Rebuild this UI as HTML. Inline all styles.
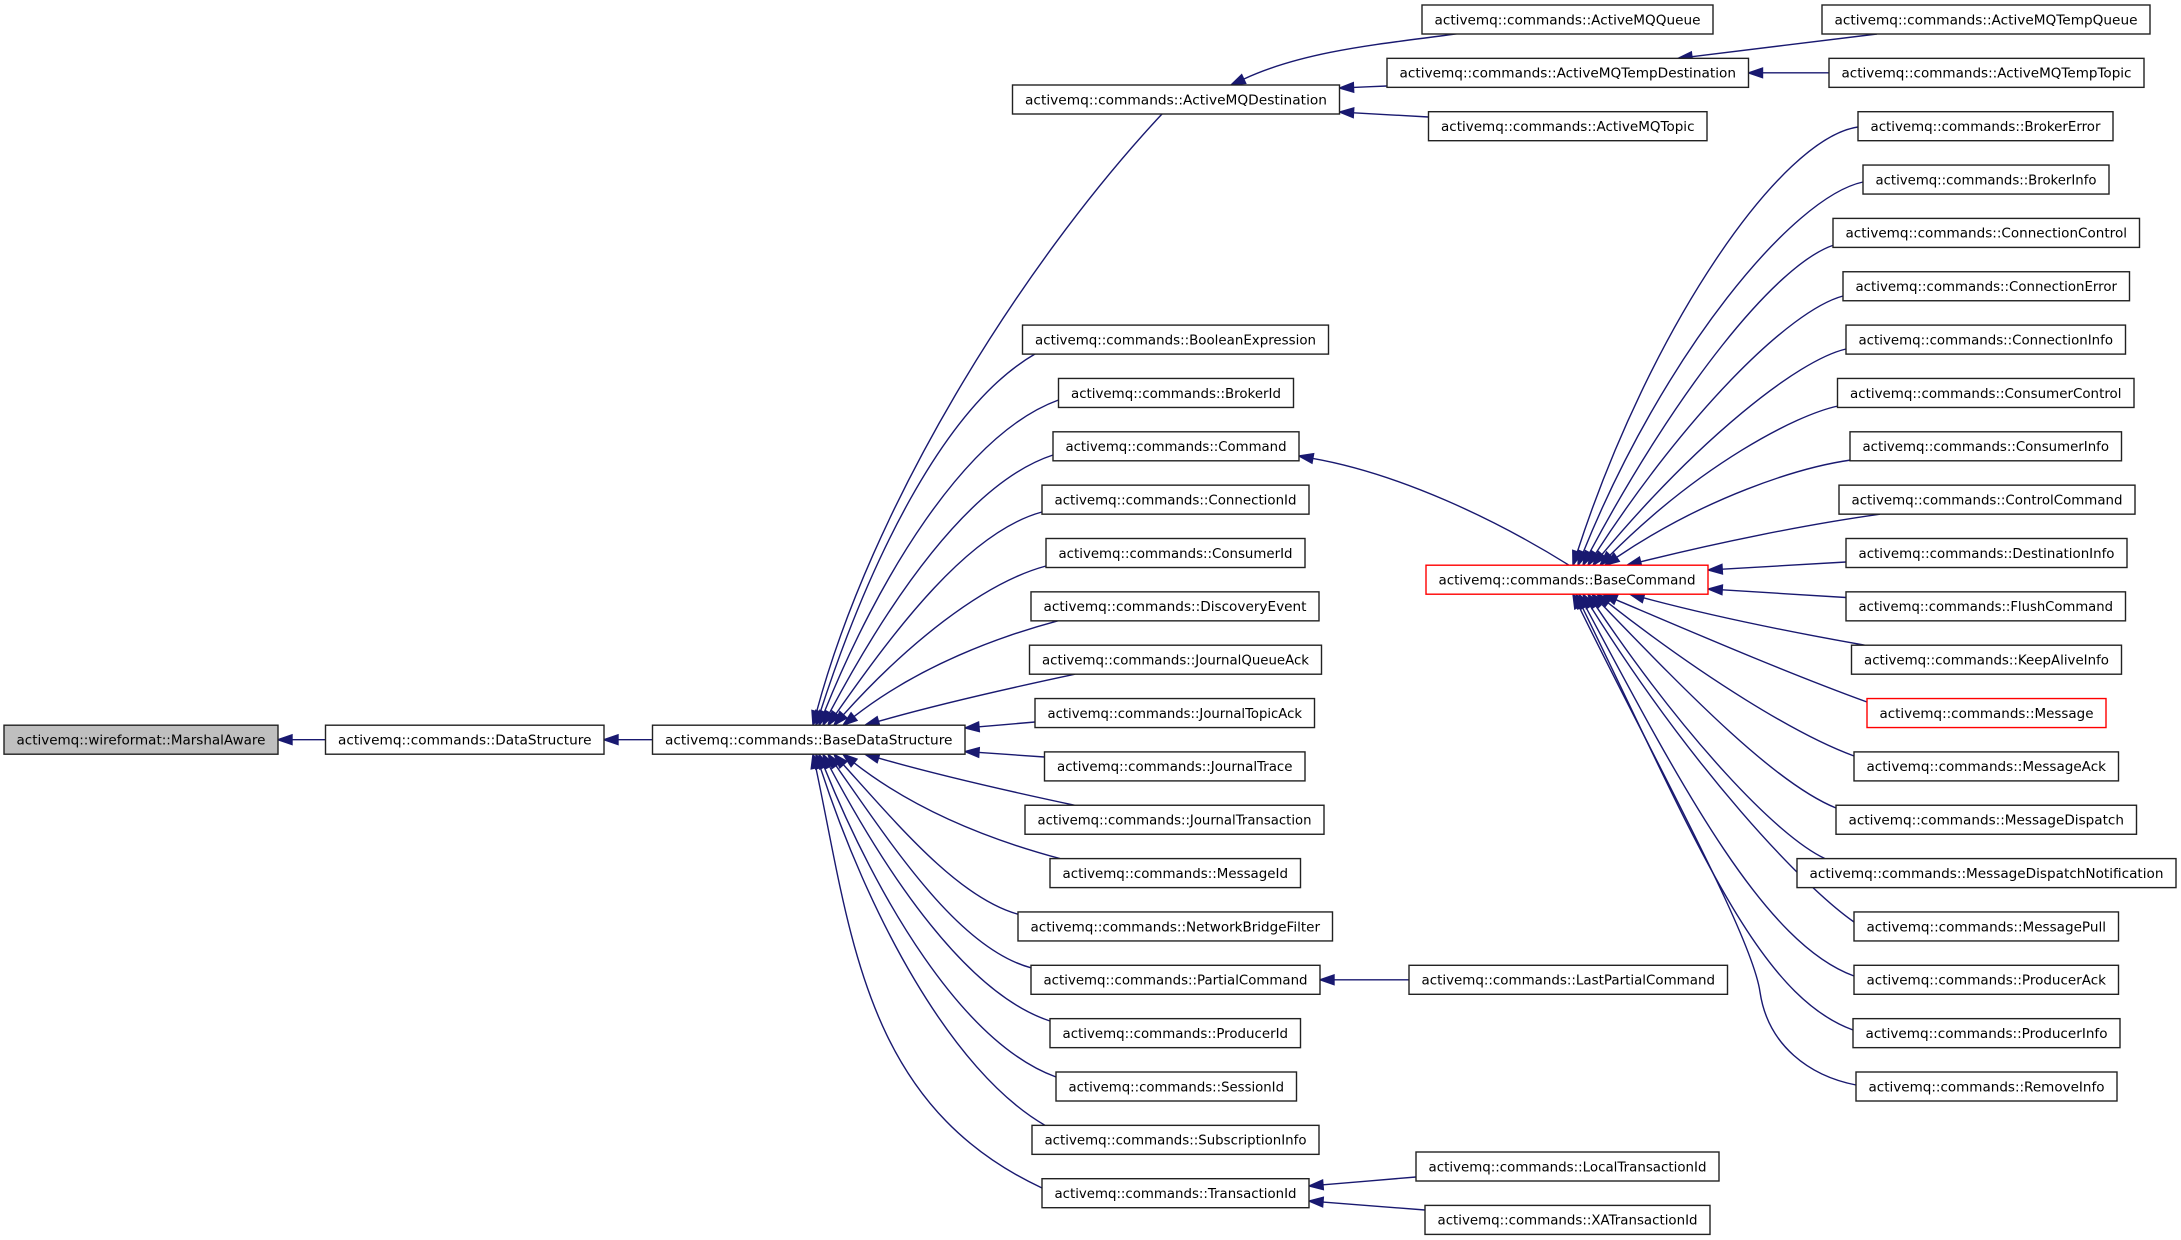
<!DOCTYPE html>
<html>
<head>
<meta charset="utf-8">
<style>
html,body{margin:0;padding:0;background:#fff;}
svg{display:block;}
text{font-family:"DejaVu Sans","Liberation Sans",sans-serif;font-size:13.5px;fill:#000;text-anchor:middle;}
.b{fill:#fff;stroke:#222;stroke-width:1.4;}
.r{fill:#fff;stroke:#ff0000;stroke-width:1.4;}
.g{fill:#bfbfbf;stroke:#222;stroke-width:1.4;}
</style>
</head>
<body>
<svg id="s" xmlns="http://www.w3.org/2000/svg" width="2181" height="1240" viewBox="0 0 2181 1240">
<rect x="0" y="0" width="2181" height="1240" fill="#fff"/>
<g id="edges" fill="none" stroke="#191970" stroke-width="1.4">
<path d="M1856,1085 C1810,1076 1768,1046 1760,992 C1752,935 1650,752 1579.1,606.8"/>
</g>
<g id="heads" fill="#191970" stroke="#191970" stroke-width="1.4">
<polygon points="1573,594.2 1583.4,604.7 1574.8,608.9"/>
</g>
<g id="nodes">
<rect class="g" x="4" y="725.2" width="274" height="29"/><text x="141" y="744.5" textLength="249" lengthAdjust="spacingAndGlyphs">activemq::wireformat::MarshalAware</text>
<rect class="b" x="325.5" y="725.2" width="278.5" height="29"/><text x="464.75" y="744.5" textLength="253.5" lengthAdjust="spacingAndGlyphs">activemq::commands::DataStructure</text>
<rect class="b" x="652.5" y="725.2" width="312.5" height="29"/><text x="808.75" y="744.5" textLength="287.5" lengthAdjust="spacingAndGlyphs">activemq::commands::BaseDataStructure</text>

<rect class="b" x="1012.5" y="85" width="327" height="29"/><text x="1176" y="104.3" textLength="302" lengthAdjust="spacingAndGlyphs">activemq::commands::ActiveMQDestination</text>
<rect class="b" x="1022.5" y="325.1" width="306" height="29"/><text x="1175.5" y="344.4" textLength="281" lengthAdjust="spacingAndGlyphs">activemq::commands::BooleanExpression</text>
<rect class="b" x="1058.5" y="378.45" width="235" height="29"/><text x="1176" y="397.75" textLength="210" lengthAdjust="spacingAndGlyphs">activemq::commands::BrokerId</text>
<rect class="b" x="1053" y="431.8" width="246" height="29"/><text x="1176" y="451.1" textLength="221" lengthAdjust="spacingAndGlyphs">activemq::commands::Command</text>
<rect class="b" x="1042" y="485.15" width="267" height="29"/><text x="1175.5" y="504.45" textLength="242" lengthAdjust="spacingAndGlyphs">activemq::commands::ConnectionId</text>
<rect class="b" x="1046" y="538.5" width="259" height="29"/><text x="1175.5" y="557.8" textLength="234" lengthAdjust="spacingAndGlyphs">activemq::commands::ConsumerId</text>
<rect class="b" x="1031" y="591.85" width="288" height="29"/><text x="1175" y="611.15" textLength="263" lengthAdjust="spacingAndGlyphs">activemq::commands::DiscoveryEvent</text>
<rect class="b" x="1029.5" y="645.2" width="292" height="29"/><text x="1175.5" y="664.5" textLength="267" lengthAdjust="spacingAndGlyphs">activemq::commands::JournalQueueAck</text>
<rect class="b" x="1035" y="698.55" width="279.5" height="29"/><text x="1174.75" y="717.85" textLength="254.5" lengthAdjust="spacingAndGlyphs">activemq::commands::JournalTopicAck</text>
<rect class="b" x="1044.5" y="751.9" width="260.5" height="29"/><text x="1174.75" y="771.2" textLength="235.5" lengthAdjust="spacingAndGlyphs">activemq::commands::JournalTrace</text>
<rect class="b" x="1025" y="805.25" width="299" height="29"/><text x="1174.5" y="824.55" textLength="274" lengthAdjust="spacingAndGlyphs">activemq::commands::JournalTransaction</text>
<rect class="b" x="1050" y="858.6" width="250.5" height="29"/><text x="1175.25" y="877.9" textLength="225.5" lengthAdjust="spacingAndGlyphs">activemq::commands::MessageId</text>
<rect class="b" x="1018" y="911.95" width="314.5" height="29"/><text x="1175.25" y="931.25" textLength="289.5" lengthAdjust="spacingAndGlyphs">activemq::commands::NetworkBridgeFilter</text>
<rect class="b" x="1031" y="965.3" width="289" height="29"/><text x="1175.5" y="984.6" textLength="264" lengthAdjust="spacingAndGlyphs">activemq::commands::PartialCommand</text>
<rect class="b" x="1050" y="1018.65" width="250.5" height="29"/><text x="1175.25" y="1037.95" textLength="225.5" lengthAdjust="spacingAndGlyphs">activemq::commands::ProducerId</text>
<rect class="b" x="1056" y="1072" width="240.5" height="29"/><text x="1176.25" y="1091.3" textLength="215.5" lengthAdjust="spacingAndGlyphs">activemq::commands::SessionId</text>
<rect class="b" x="1032" y="1125.35" width="287" height="29"/><text x="1175.5" y="1144.65" textLength="262" lengthAdjust="spacingAndGlyphs">activemq::commands::SubscriptionInfo</text>
<rect class="b" x="1042" y="1178.7" width="267" height="29"/><text x="1175.5" y="1198" textLength="242" lengthAdjust="spacingAndGlyphs">activemq::commands::TransactionId</text>

<rect class="b" x="1422" y="5" width="291" height="29"/><text x="1567.5" y="24.3" textLength="266" lengthAdjust="spacingAndGlyphs">activemq::commands::ActiveMQQueue</text>
<rect class="b" x="1387" y="58.35" width="361.5" height="29"/><text x="1567.75" y="77.65" textLength="336.5" lengthAdjust="spacingAndGlyphs">activemq::commands::ActiveMQTempDestination</text>
<rect class="b" x="1428.5" y="111.7" width="278.5" height="29"/><text x="1567.75" y="131" textLength="253.5" lengthAdjust="spacingAndGlyphs">activemq::commands::ActiveMQTopic</text>
<rect class="r" x="1426" y="565.2" width="282" height="29"/><text x="1567" y="584.5" textLength="257" lengthAdjust="spacingAndGlyphs">activemq::commands::BaseCommand</text>
<rect class="b" x="1409" y="965.3" width="318.5" height="29"/><text x="1568.25" y="984.6" textLength="293.5" lengthAdjust="spacingAndGlyphs">activemq::commands::LastPartialCommand</text>
<rect class="b" x="1416" y="1152" width="303" height="29"/><text x="1567.5" y="1171.3" textLength="278" lengthAdjust="spacingAndGlyphs">activemq::commands::LocalTransactionId</text>
<rect class="b" x="1425" y="1205.4" width="285" height="29"/><text x="1567.5" y="1224.7" textLength="260" lengthAdjust="spacingAndGlyphs">activemq::commands::XATransactionId</text>

<rect class="b" x="1822" y="5" width="328" height="29"/><text x="1986" y="24.3" textLength="303" lengthAdjust="spacingAndGlyphs">activemq::commands::ActiveMQTempQueue</text>
<rect class="b" x="1829" y="58.35" width="315" height="29"/><text x="1986.5" y="77.65" textLength="290" lengthAdjust="spacingAndGlyphs">activemq::commands::ActiveMQTempTopic</text>
<rect class="b" x="1858" y="111.7" width="255" height="29"/><text x="1985.5" y="131" textLength="230" lengthAdjust="spacingAndGlyphs">activemq::commands::BrokerError</text>
<rect class="b" x="1863" y="165.05" width="246" height="29"/><text x="1986" y="184.35" textLength="221" lengthAdjust="spacingAndGlyphs">activemq::commands::BrokerInfo</text>
<rect class="b" x="1833" y="218.4" width="306.5" height="29"/><text x="1986.25" y="237.7" textLength="281.5" lengthAdjust="spacingAndGlyphs">activemq::commands::ConnectionControl</text>
<rect class="b" x="1843" y="271.75" width="286.5" height="29"/><text x="1986.25" y="291.05" textLength="261.5" lengthAdjust="spacingAndGlyphs">activemq::commands::ConnectionError</text>
<rect class="b" x="1846" y="325.1" width="279.5" height="29"/><text x="1985.75" y="344.4" textLength="254.5" lengthAdjust="spacingAndGlyphs">activemq::commands::ConnectionInfo</text>
<rect class="b" x="1837.5" y="378.45" width="296.5" height="29"/><text x="1985.75" y="397.75" textLength="271.5" lengthAdjust="spacingAndGlyphs">activemq::commands::ConsumerControl</text>
<rect class="b" x="1850" y="431.8" width="271.5" height="29"/><text x="1985.75" y="451.1" textLength="246.5" lengthAdjust="spacingAndGlyphs">activemq::commands::ConsumerInfo</text>
<rect class="b" x="1839" y="485.15" width="296" height="29"/><text x="1987" y="504.45" textLength="271" lengthAdjust="spacingAndGlyphs">activemq::commands::ControlCommand</text>
<rect class="b" x="1846" y="538.5" width="281" height="29"/><text x="1986.5" y="557.8" textLength="256" lengthAdjust="spacingAndGlyphs">activemq::commands::DestinationInfo</text>
<rect class="b" x="1846" y="591.85" width="279.5" height="29"/><text x="1985.75" y="611.15" textLength="254.5" lengthAdjust="spacingAndGlyphs">activemq::commands::FlushCommand</text>
<rect class="b" x="1851.5" y="645.2" width="270" height="29"/><text x="1986.5" y="664.5" textLength="245" lengthAdjust="spacingAndGlyphs">activemq::commands::KeepAliveInfo</text>
<rect class="r" x="1867" y="698.55" width="239" height="29"/><text x="1986.5" y="717.85" textLength="214" lengthAdjust="spacingAndGlyphs">activemq::commands::Message</text>
<rect class="b" x="1854" y="751.9" width="264.5" height="29"/><text x="1986.25" y="771.2" textLength="239.5" lengthAdjust="spacingAndGlyphs">activemq::commands::MessageAck</text>
<rect class="b" x="1836" y="805.25" width="300.5" height="29"/><text x="1986.25" y="824.55" textLength="275.5" lengthAdjust="spacingAndGlyphs">activemq::commands::MessageDispatch</text>
<rect class="b" x="1797" y="858.6" width="379" height="29"/><text x="1986.5" y="877.9" textLength="354" lengthAdjust="spacingAndGlyphs">activemq::commands::MessageDispatchNotification</text>
<rect class="b" x="1854" y="911.95" width="264.5" height="29"/><text x="1986.25" y="931.25" textLength="239.5" lengthAdjust="spacingAndGlyphs">activemq::commands::MessagePull</text>
<rect class="b" x="1854" y="965.3" width="264.5" height="29"/><text x="1986.25" y="984.6" textLength="239.5" lengthAdjust="spacingAndGlyphs">activemq::commands::ProducerAck</text>
<rect class="b" x="1853" y="1018.65" width="267" height="29"/><text x="1986.5" y="1037.95" textLength="242" lengthAdjust="spacingAndGlyphs">activemq::commands::ProducerInfo</text>
<rect class="b" x="1856" y="1072" width="261" height="29"/><text x="1986.5" y="1091.3" textLength="236" lengthAdjust="spacingAndGlyphs">activemq::commands::RemoveInfo</text>
</g>
</svg>
<script>
(function(){
var NS='http://www.w3.org/2000/svg';
var ge=document.getElementById('edges'),gh=document.getElementById('heads');
function add(par,tag,attrs){var e=document.createElementNS(NS,tag);for(var k in attrs)e.setAttribute(k,attrs[k]);par.appendChild(e);return e;}
function f(v){return (Math.round(v*100)/100).toString();}
function head(tx,ty,ux,uy){
  var bx=tx-14*ux,by=ty-14*uy,nx=-uy*4.8,ny=ux*4.8;
  add(gh,'polygon',{points:f(tx)+','+f(ty)+' '+f(bx+nx)+','+f(by+ny)+' '+f(bx-nx)+','+f(by-ny)});
  return [bx,by];
}
function E(sx,sy,tx,ty,p0,p1,sg,f0,f1){
  f0=(f0===undefined)?0.3:f0; f1=(f1===undefined)?0.3:f1;
  var r=Math.PI/180;
  var u0x=-Math.cos(p0*r),u0y=sg*Math.sin(p0*r),u1x=-Math.cos(p1*r),u1y=sg*Math.sin(p1*r);
  var d=Math.sqrt((tx-sx)*(tx-sx)+(ty-sy)*(ty-sy));
  var b=head(tx,ty,u1x,u1y);
  var c1x=sx+f0*d*u0x,c1y=sy+f0*d*u0y,c2x=b[0]-f1*d*u1x,c2y=b[1]-f1*d*u1y;
  add(ge,'path',{d:'M'+f(sx)+','+f(sy)+' C'+f(c1x)+','+f(c1y)+' '+f(c2x)+','+f(c2y)+' '+f(b[0])+','+f(b[1])});
}
// left chain
E(325.5,739.7,278,739.7,0,0,1);
E(652.5,739.7,604,739.7,0,0,1);
// ActiveMQ destination cluster
E(1459,33.5,1231,85,8,25,1);
E(1387,86,1339.5,88,2.4,2.4,1);
E(1428.5,117,1339.5,112,3.2,3.2,-1);
E(1877,34,1678,58.4,7,7,1);
E(1829,72.85,1748.5,72.85,0,0,1);
E(1409,979.8,1320,979.8,0,0,1);
E(1416,1177,1309,1186,4.8,4.8,1);
E(1425,1210,1309,1201,4.4,4.4,-1);
// BaseCommand -> Command
E(1569,565.2,1299,456,32,10,-1);
// BaseDataStructure fan (top)
E(1162,114,813,725.2,47,75,1);
E(1035,354,816,725.2,30,72,1,0.25,0.35);
E(1058.5,400,819,725.2,20,68,1,0.25,0.35);
E(1053,455,823,725.2,18,62,1,0.25,0.35);
E(1042,512,828,725.2,15,55,1,0.25,0.35);
E(1046,566,834,725.2,15,48,1,0.25,0.35);
E(1058,620.8,843,725.2,15,38,1,0.25,0.35);
E(1075,674.2,865,725.2,12,16,1);
E(1035,722,965,728,4.9,4.9,1);
// BaseDataStructure fan (bottom)
E(1044.5,757,965,751.5,4,4,-1);
E(1075,805.3,865,754.2,12,16,-1);
E(1060,858.6,843,754.2,15,38,-1,0.25,0.35);
E(1019,914.5,834,754.2,15,48,-1,0.25,0.35);
E(1031,967.8,828,754.2,15,55,-1,0.25,0.35);
E(1050,1021,823,754.2,18,62,-1,0.25,0.35);
E(1056,1077,819,754.2,20,68,-1,0.25,0.35);
E(1045,1125.3,816,754.2,30,72,-1,0.25,0.35);
E(1042,1188,813,754.2,25,78,-1,0.4,0.35);
// BaseCommand fan (top)
E(1858,127,1573,565.2,8,72,1,0.15,0.45);
E(1863,182,1578,565.2,12,68,1,0.15,0.45);
E(1834,245,1583,565.2,18,62,1,0.15,0.45);
E(1843,296,1588,565.2,15,57,1,0.15,0.45);
E(1846,349,1593,565.2,13,50,1,0.15,0.45);
E(1838,406,1600,565.2,12,45,1,0.15,0.45);
E(1851,460,1605,565.2,8,34,1,0.2,0.4);
E(1880,514.2,1627,565.2,8,14,1);
E(1846,562,1708.2,570,3.3,3.3,1);
E(1846,597.5,1708.2,589,3.5,3.5,-1);
// BaseCommand fan (bottom)
E(1865,645.2,1630,594.2,10,15,-1);
E(1867,702,1603,594.2,20,23,-1);
E(1854,756,1597,594.2,20,38,-1,0.2,0.4);
E(1836,808,1592,594.2,22,46,-1,0.2,0.4);
E(1825,858.6,1588,594.2,25,56,-1,0.15,0.45);
E(1854,922,1583,594.2,35,58,-1,0.15,0.45);
E(1854,976,1579,594.2,20,62,-1,0.2,0.45);
E(1853,1030,1576,594.2,20,64,-1,0.2,0.5);
})();
</script>
</body>
</html>
